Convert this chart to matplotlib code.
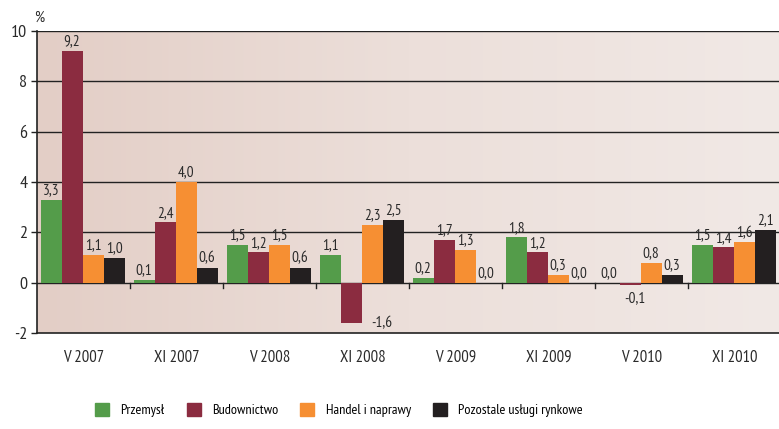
import numpy as np
import matplotlib
matplotlib.use("Agg")
import matplotlib.pyplot as plt
from matplotlib.patches import Rectangle
from matplotlib.colors import LinearSegmentedColormap

plt.rcParams['font.family'] = ['PT Sans Narrow', 'DejaVu Sans']

categories = ["V 2007", "XI 2007", "V 2008", "XI 2008", "V 2009", "XI 2009", "V 2010", "XI 2010"]
series_names = ["Przemysł", "Budownictwo", "Handel i naprawy", "Pozostale usługi rynkowe"]
przemysl = [3.3, 0.1, 1.5, 1.1, 0.2, 1.8, 0.0, 1.5]
budownictwo = [9.2, 2.4, 1.2, -1.6, 1.7, 1.2, -0.1, 1.4]
handel = [1.1, 4.0, 1.5, 2.3, 1.3, 0.3, 0.8, 1.6]
pozostale = [1.0, 0.6, 0.6, 2.5, 0.0, 0.0, 0.3, 2.1]
yticks = [-2, 0, 2, 4, 6, 8, 10]

series = [przemysl, budownictwo, handel, pozostale]
colors = ["#549c4a", "#8b2c40", "#f68f33", "#231f20"]
txtc = '#2a2a2a'

fig = plt.figure(figsize=(7.79, 4.29), dpi=100)
ax = fig.add_axes([37/779, 1-333/429, (781-37)/779, (333-31)/429])

# background gradient
cmap = LinearSegmentedColormap.from_list("bg", ["#e3cec6", "#ecdfda", "#f1e9e6"])
grad = np.linspace(0, 1, 256).reshape(1, -1)
ax.imshow(grad, extent=[-0.5, 7.5, -2, 10], aspect='auto', cmap=cmap, zorder=0)

x = np.arange(len(categories))
w = 0.226
offs = (np.arange(4) - 1.5) * w - 0.01
for i, (vals, c) in enumerate(zip(series, colors)):
    ax.bar(x + offs[i], vals, width=w, color=c, zorder=3, label=series_names[i])
    for xi, v in zip(x + offs[i], vals):
        lab = f"{v:.1f}".replace(".", ",")
        if v >= 0:
            ax.text(xi, v + 0.1, lab, ha='center', va='bottom', fontsize=11, color=txtc, zorder=4)
        else:
            if v - 0.5 < -2:
                ax.text(xi + w * 1.45, v, lab, ha='center', va='center', fontsize=11, color=txtc, zorder=4)
            else:
                ax.text(xi + 0.05, v - 0.25, lab, ha='center', va='top', fontsize=11, color=txtc, zorder=4)

ax.set_xlim(-0.5, 7.5)
ax.set_ylim(-2, 10)
for g in [2, 4, 6, 8, 10]:
    ax.axhline(g, color='#222222', lw=1.0, zorder=1)
ax.axhline(0, color='#222222', lw=1.0, zorder=2)
# group boundary ticks on the zero line
for b in np.arange(0.5, 7.5, 1.0):
    ax.plot([b, b], [0, -0.2], color='#222222', lw=1.0, zorder=2)

ax.set_yticks(yticks)
ax.set_yticklabels([str(t) for t in yticks], fontsize=13, color=txtc)
ax.tick_params(axis='y', direction='out', length=4, width=1, color='#222222', pad=3)
ax.set_xticks(x)
ax.set_xticklabels(categories, fontsize=12, color=txtc)
ax.tick_params(axis='x', length=0, pad=12)
for s in ['top', 'right']:
    ax.spines[s].set_visible(False)
ax.spines['left'].set_color('#222222')
ax.spines['bottom'].set_color('#222222')
ax.spines['left'].set_linewidth(1.2)
ax.spines['bottom'].set_linewidth(1.2)

fig.text(34/779, 1-18/429, "%", fontsize=11.5, color=txtc, ha='left', va='center')

handles = [Rectangle((0, 0), 1, 1, color=c) for c in colors]
fig.legend(handles, series_names, loc='center', bbox_to_anchor=(339/779, 1-410/429), ncol=4,
           frameon=False, fontsize=10.2, handlelength=1.0, handleheight=1.0, handletextpad=0.8,
           columnspacing=1.55)

fig.savefig("out.png", dpi=100)
